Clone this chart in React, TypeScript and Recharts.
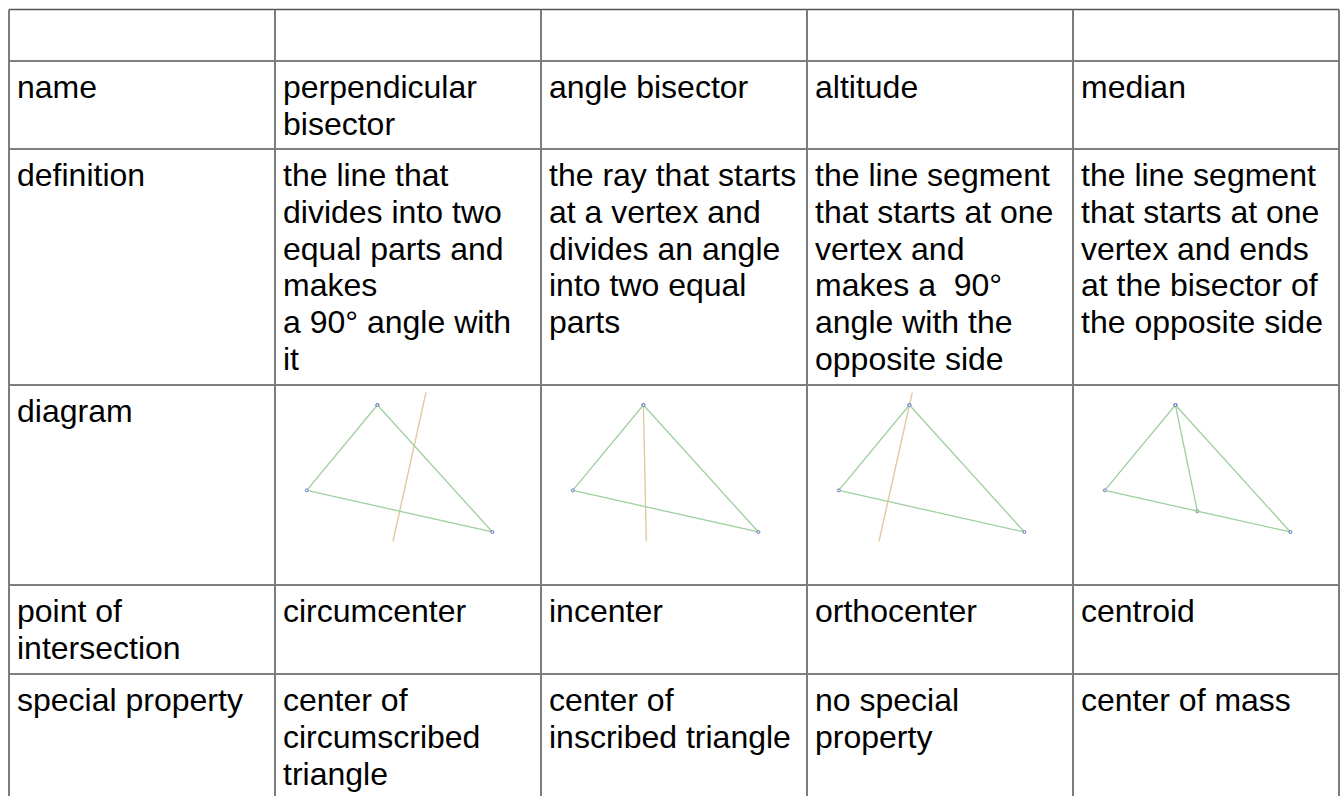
import { ReferenceLine, Scatter, ScatterChart, XAxis, YAxis } from 'recharts';

const WIDTH = 1340;
const HEIGHT = 796;

// Table grid, in page pixels
const COLUMN_EDGES = [9, 275, 541, 807, 1073, 1339];
const ROW_EDGES = [9.5, 61, 149, 385, 585, 674];

const ROW_NAMES = ['', 'name', 'definition', 'diagram', 'point of\nintersection', 'special property'];
const PERPENDICULAR = ['', 'perpendicular\nbisector', 'the line that\ndivides into two\nequal parts and\nmakes\na 90° angle with\nit', '', 'circumcenter', 'center of\ncircumscribed\ntriangle'];
const ANGLE_BISECTOR = ['', 'angle bisector', 'the ray that starts\nat a vertex and\ndivides an angle\ninto two equal\nparts', '', 'incenter', 'center of\ninscribed triangle'];
const ALTITUDE = ['', 'altitude', 'the line segment\nthat starts at one\nvertex and\nmakes a \u00a090°\nangle with the\nopposite side', '', 'orthocenter', 'no special\nproperty'];
const MEDIAN = ['', 'median', 'the line segment\nthat starts at one\nvertex and ends\nat the bisector of\nthe opposite side', '', 'centroid', 'center of mass'];
const COLUMNS = [ROW_NAMES, PERPENDICULAR, ANGLE_BISECTOR, ALTITUDE, MEDIAN];

// The same triangle sits in each diagram cell, measured from the panel origin
const PANEL_ORIGIN_X = [276, 542, 808, 1074];
const PANEL_ORIGIN_Y = 380;
const TRIANGLE = [
  { x: 101.4, y: 25 },
  { x: 30.8, y: 110.4 },
  { x: 216.4, y: 152 },
];
const PERPENDICULAR_LINE = [{ x: 150, y: 12.3 }, { x: 117, y: 161.3 }];
const BISECTOR_LINE = [{ x: 101.4, y: 25 }, { x: 104.3, y: 161.3 }];
const ALTITUDE_LINE = [{ x: 104.3, y: 12.3 }, { x: 71, y: 161.3 }];
const MEDIAN_LINE = [{ x: 101.4, y: 25 }, { x: 123.4, y: 131.3 }];
const CONSTRUCTION_LINES = [PERPENDICULAR_LINE, BISECTOR_LINE, ALTITUDE_LINE];

const ROW_LINE_COLOR = '#555555';
const COLUMN_LINE_COLOR = '#7c7c7c';
const TRIANGLE_COLOR = '#9fd09f';
const CONSTRUCTION_COLOR = '#e2c99e';
const VERTEX_COLOR = '#6f7fc0';
const FONT = '"Liberation Sans", Arial, sans-serif';
const FONT_SIZE = 32;
const LINE_HEIGHT = 36.8;

const cells = COLUMNS.flatMap((column, c) =>
  column
    .map((text, r) => ({ x: COLUMN_EDGES[c], y: ROW_EDGES[r], lines: text ? text.split('\n') : [] }))
    .filter((cell) => cell.lines.length > 0),
);

const shift = (points: { x: number; y: number }[], originX: number) =>
  points.map((p) => ({ x: p.x + originX, y: p.y + PANEL_ORIGIN_Y }));

function CellText(props: any) {
  const { cx, cy, payload } = props;
  return (
    <text x={cx + 8} y={cy + 37} fontFamily={FONT} fontSize={FONT_SIZE} fill="#000" xmlSpace="preserve">
      {payload.lines.map((line: string, i: number) => (
        <tspan key={i} x={cx + 8} dy={i === 0 ? 0 : LINE_HEIGHT}>
          {line}
        </tspan>
      ))}
    </text>
  );
}

function VertexDot(props: any) {
  return <circle cx={props.cx} cy={props.cy} r={1.5} fill="#e8ecf8" stroke={VERTEX_COLOR} strokeWidth={1} />;
}

const NoDot = () => null;

export default function App() {
  return (
    <div style={{ position: 'absolute', left: 0, top: 0, width: WIDTH, height: HEIGHT, background: '#fff' }}>
      <ScatterChart width={WIDTH} height={HEIGHT} margin={{ top: 0, right: 0, bottom: 0, left: 0 }}>
        <XAxis type="number" dataKey="x" domain={[0, WIDTH]} hide allowDataOverflow />
        <YAxis type="number" dataKey="y" domain={[0, HEIGHT]} reversed hide allowDataOverflow />

        {ROW_EDGES.map((y) => (
          <ReferenceLine
            key={`row-${y}`}
            segment={[{ x: COLUMN_EDGES[0], y }, { x: COLUMN_EDGES[5], y }]}
            stroke={ROW_LINE_COLOR}
            strokeWidth={1.4}
          />
        ))}
        {COLUMN_EDGES.map((x) => (
          <ReferenceLine
            key={`col-${x}`}
            segment={[{ x, y: ROW_EDGES[0] }, { x, y: HEIGHT }]}
            stroke={COLUMN_LINE_COLOR}
            strokeWidth={2}
          />
        ))}

        {CONSTRUCTION_LINES.map((points, i) => (
          <Scatter
            key={`construction-${i}`}
            data={shift(points, PANEL_ORIGIN_X[i])}
            line={{ stroke: CONSTRUCTION_COLOR, strokeWidth: 1.4 }}
            shape={NoDot}
            isAnimationActive={false}
          />
        ))}
        <Scatter
          data={shift(MEDIAN_LINE, PANEL_ORIGIN_X[3])}
          line={{ stroke: TRIANGLE_COLOR, strokeWidth: 1.3 }}
          shape={VertexDot}
          isAnimationActive={false}
        />
        {PANEL_ORIGIN_X.map((originX) => (
          <Scatter
            key={`triangle-${originX}`}
            data={shift([...TRIANGLE, TRIANGLE[0]], originX)}
            line={{ stroke: TRIANGLE_COLOR, strokeWidth: 1.3 }}
            shape={VertexDot}
            isAnimationActive={false}
          />
        ))}

        <Scatter data={cells} shape={CellText} isAnimationActive={false} />
      </ScatterChart>
    </div>
  );
}
